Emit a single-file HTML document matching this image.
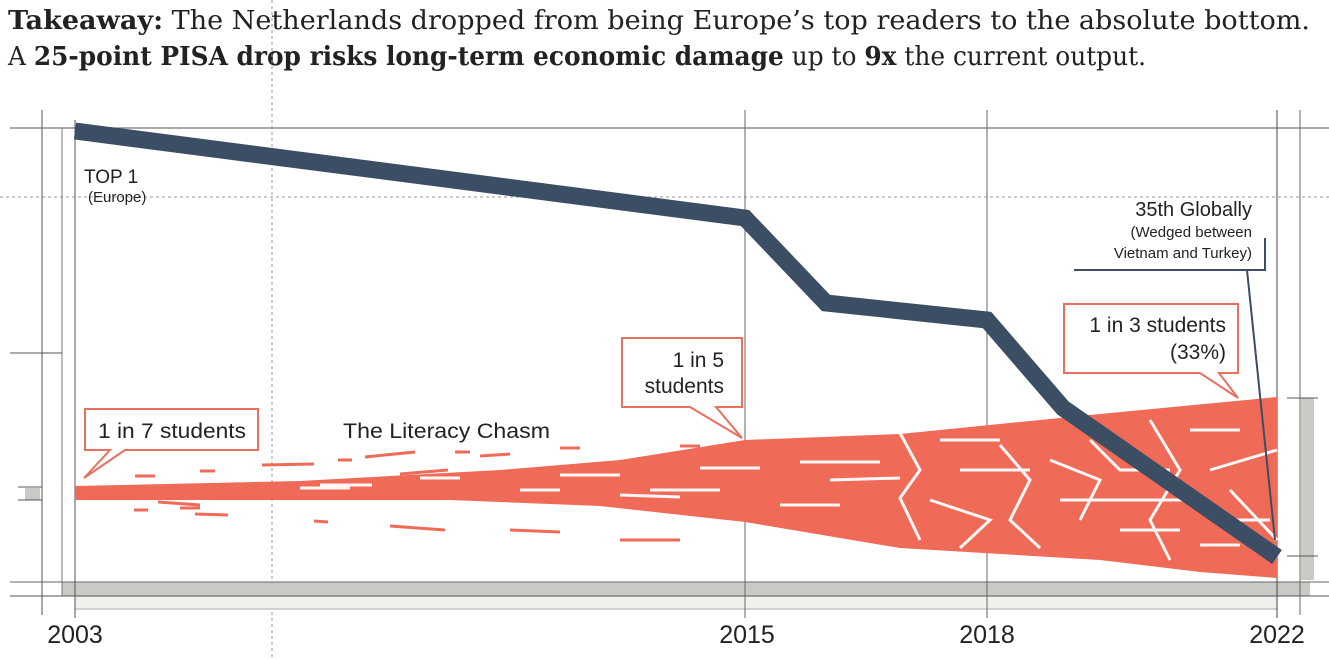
<!DOCTYPE html>
<html><head><meta charset="utf-8"><style>
body{margin:0;background:#fff;}
svg{display:block;}
.s{font-family:"Liberation Sans",sans-serif;fill:#222;}
.t{font-family:"DejaVu Serif","Liberation Serif",serif;fill:#222;font-size:26px;}
</style></head><body>
<svg width="1329" height="658" viewBox="0 0 1329 658" xmlns="http://www.w3.org/2000/svg">
<text class="t" x="8" y="29" textLength="1302" lengthAdjust="spacingAndGlyphs"><tspan font-weight="bold">Takeaway:</tspan> The Netherlands dropped from being Europe’s top readers to the absolute bottom.</text>
<text class="t" x="8" y="65" textLength="1138" lengthAdjust="spacingAndGlyphs">A <tspan font-weight="bold">25-point PISA drop risks long-term economic damage</tspan> up to <tspan font-weight="bold">9x</tspan> the current output.</text>
<line x1="272" y1="0" x2="272" y2="658" stroke="#999" stroke-dasharray="3,3" stroke-width="1"/>
<line x1="0" y1="197" x2="1329" y2="197" stroke="#999" stroke-dasharray="3,3" stroke-width="1"/>
<line x1="10" y1="128" x2="1329" y2="128" stroke="#777" stroke-width="1.2"/>
<rect x="62" y="582" width="1248" height="14" fill="#c9c9c5"/>
<rect x="75" y="596" width="1202" height="13" fill="#f0f0ec"/>
<line x1="10" y1="582" x2="1329" y2="582" stroke="#666"/>
<line x1="10" y1="596" x2="1329" y2="596" stroke="#555"/>
<line x1="75" y1="609" x2="1277" y2="609" stroke="#aaa"/>
<line x1="42" y1="110" x2="42" y2="615" stroke="#555"/>
<line x1="62" y1="128" x2="62" y2="596" stroke="#777"/>
<line x1="75" y1="120" x2="75" y2="618" stroke="#555"/>
<line x1="745" y1="110" x2="745" y2="618" stroke="#666"/>
<line x1="987" y1="110" x2="987" y2="618" stroke="#666"/>
<line x1="1277" y1="110" x2="1277" y2="618" stroke="#444"/>
<line x1="1300" y1="110" x2="1300" y2="615" stroke="#666"/>
<line x1="10" y1="353" x2="62" y2="353" stroke="#555"/>
<rect x="25" y="488" width="15" height="12" fill="#c9c9c5"/>
<line x1="18" y1="487" x2="42" y2="487" stroke="#555"/>
<line x1="18" y1="500" x2="42" y2="500" stroke="#555"/>
<rect x="1301" y="398" width="13" height="182" fill="#c9c9c5"/>
<line x1="1287" y1="398" x2="1318" y2="398" stroke="#555"/>
<line x1="1287" y1="556" x2="1318" y2="556" stroke="#555"/>
<polygon fill="#ef6b58" points="75,486 300,481 500,470 620,460 745,440 900,434 1100,414 1277,397 1277,578 1200,572 1100,560 900,548 745,522 600,506 450,500 300,500 75,500"/>
<g stroke="#fff" stroke-width="3" fill="none" opacity="0.95">
<path d="M420,478 L460,478 M300,488 L350,488 M320,485 L372,485 M560,475 L620,475 M620,495 L680,497 M700,468 L760,468 M800,462 L880,462 M830,480 L900,478 M900,433 L920,470 L900,498 L920,540 M940,440 L1000,440 M960,470 L1030,470 M930,500 L990,520 L960,548 M1000,445 L1030,480 L1010,520 L1040,548 M1050,460 L1100,480 L1080,520 M1090,440 L1120,470 L1170,470 M1110,500 L1200,500 M1150,420 L1180,470 L1150,520 L1170,560 M1190,430 L1240,430 M1210,470 L1277,450 M1230,490 L1277,540 M1220,520 L1270,520 M1200,545 L1240,545 M650,490 L720,490 M780,505 L840,505 M520,490 L560,490 M1060,500 L1120,500 M1120,530 L1180,530"/>
</g>
<g stroke="#ef6b58" stroke-width="3">
<line x1="135" y1="476" x2="155" y2="476"/><line x1="200" y1="471" x2="215" y2="471"/>
<line x1="262" y1="465" x2="314" y2="464"/><line x1="338" y1="460" x2="352" y2="460"/>
<line x1="365" y1="457" x2="415" y2="452"/><line x1="400" y1="474" x2="448" y2="470"/>
<line x1="134" y1="510" x2="148" y2="510"/><line x1="158" y1="502" x2="200" y2="505"/>
<line x1="195" y1="514" x2="228" y2="515"/><line x1="314" y1="521" x2="328" y2="522"/>
<line x1="390" y1="526" x2="445" y2="530"/><line x1="180" y1="508" x2="200" y2="508"/>
<line x1="455" y1="452" x2="470" y2="452"/><line x1="480" y1="456" x2="510" y2="454"/>
<line x1="560" y1="448" x2="580" y2="448"/><line x1="680" y1="446" x2="700" y2="446"/>
<line x1="510" y1="530" x2="560" y2="532"/><line x1="620" y1="540" x2="680" y2="540"/>
</g>
<polyline points="75,131 745,218 826,303 987,320 1063,408 1277,557" fill="none" stroke="#3b4e63" stroke-width="17" stroke-linejoin="miter"/>
<polyline points="1074,270 1265,270 1265,238" fill="none" stroke="#3b4e63" stroke-width="2"/>
<line x1="1247" y1="270" x2="1275" y2="540" stroke="#3b4e63" stroke-width="2"/>
<path d="M85,409 H258 V450 H125 L84,478 L110,450 H85 Z" fill="#fff" stroke="#e8705f" stroke-width="2"/>
<path d="M622,338 H742 V407 H716 L742,438 L690,407 H622 Z" fill="#fff" stroke="#e8705f" stroke-width="2"/>
<path d="M1064,304 H1238 V373 H1219 L1238,398 L1200,373 H1064 Z" fill="#fff" stroke="#e8705f" stroke-width="2"/>
<text class="s" x="98" y="438" font-size="21" textLength="148" lengthAdjust="spacingAndGlyphs">1 in 7 students</text>
<text class="s" x="724" y="367" font-size="21" text-anchor="end">1 in 5</text>
<text class="s" x="724" y="393" font-size="21" text-anchor="end">students</text>
<text class="s" x="1226" y="332" font-size="21" text-anchor="end">1 in 3 students</text>
<text class="s" x="1226" y="359" font-size="21" text-anchor="end">(33%)</text>
<text class="s" x="343" y="438" font-size="21" textLength="207" lengthAdjust="spacingAndGlyphs">The Literacy Chasm</text>
<text class="s" x="84" y="183" font-size="19">TOP 1</text>
<text class="s" x="88" y="202" font-size="15">(Europe)</text>
<text class="s" x="1252" y="216" font-size="20" text-anchor="end">35th Globally</text>
<text class="s" x="1252" y="237" font-size="15" text-anchor="end">(Wedged between</text>
<text class="s" x="1252" y="258" font-size="15" text-anchor="end">Vietnam and Turkey)</text>
<text class="s" x="75" y="643" font-size="25" text-anchor="middle">2003</text>
<text class="s" x="747" y="643" font-size="25" text-anchor="middle">2015</text>
<text class="s" x="987" y="643" font-size="25" text-anchor="middle">2018</text>
<text class="s" x="1277" y="643" font-size="25" text-anchor="middle">2022</text>
</svg>
</body></html>
